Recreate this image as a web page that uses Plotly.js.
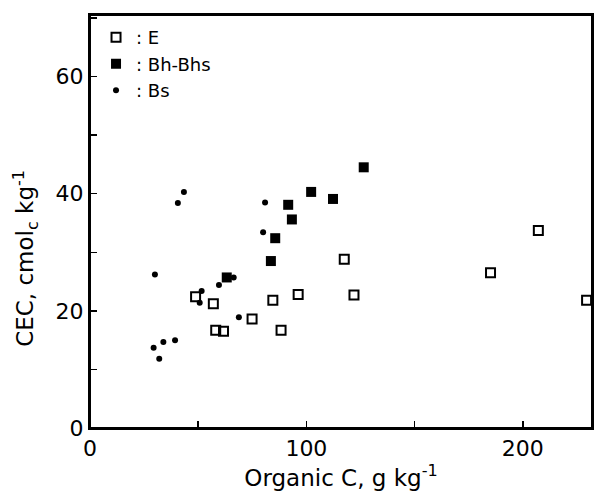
<!DOCTYPE html>
<html><head><meta charset="utf-8">
<script src="https://cdn.plot.ly/plotly-3.0.1.min.js"></script>
<style>body{margin:0;background:#fff}#c{width:605px;height:492px}</style>
</head><body><div id="c"></div>
<script>
const eX = [48.8, 57.0, 58.1, 61.7, 74.9, 84.5, 88.3, 96.2, 117.5, 122.0, 185.1, 207.2, 229.5];
const eY = [22.4, 21.2, 16.7, 16.5, 18.6, 21.8, 16.7, 22.8, 28.8, 22.7, 26.5, 33.7, 21.8];
const bhX = [63.2, 83.6, 85.6, 93.3, 91.6, 102.2, 112.3, 126.5];
const bhY = [25.7, 28.5, 32.4, 35.6, 38.1, 40.3, 39.1, 44.5];
const bsX = [43.4, 40.6, 80.9, 80.0, 30.0, 66.4, 59.6, 51.6, 50.7, 68.8, 39.3, 33.9, 29.4, 32.0];
const bsY = [40.3, 38.4, 38.5, 33.4, 26.2, 25.7, 24.4, 23.4, 21.4, 18.9, 15.0, 14.7, 13.7, 11.8];
const names = [": E", ": Bh-Bhs", ": Bs"];
const xTitle = "Organic C, g kg<sup>-1</sup>";
const yTitle = "CEC, cmol<sub>c</sub> kg<sup>-1</sup>";

const font = "DejaVu Sans, Liberation Sans, Arial, sans-serif";
const traces = [
  {x: eX, y: eY, name: names[0], mode: "markers", type: "scatter",
   marker: {symbol: "square-open", size: 9, color: "black", line: {width: 2, color: "black"}}},
  {x: bhX, y: bhY, name: names[1], mode: "markers", type: "scatter",
   marker: {symbol: "square", size: 10, color: "black"}},
  {x: bsX, y: bsY, name: names[2], mode: "markers", type: "scatter",
   marker: {symbol: "circle", size: 6, color: "black"}}
];
const axisCommon = {
  ticks: "inside", ticklen: 7, tickwidth: 1.5, tickcolor: "black",
  showline: true, linecolor: "black", linewidth: 2, mirror: true,
  showgrid: false, zeroline: false, tickfont: {size: 22, color: "black", family: font}
};
const layout = {
  width: 605, height: 492,
  margin: {l: 90, r: 13, t: 15, b: 64},
  paper_bgcolor: "white", plot_bgcolor: "white",
  font: {family: font, color: "black"},
  showlegend: true,
  legend: {x: 0.012, y: 0.99, xanchor: "left", yanchor: "top", font: {size: 18, family: font, color: "black"},
           bgcolor: "rgba(0,0,0,0)", tracegroupgap: 0, itemwidth: 30},
  xaxis: Object.assign({}, axisCommon, {range: [0, 232], dtick: 100, tick0: 0,
          minor: {dtick: 50, ticks: "inside", ticklen: 7, tickwidth: 1.5, tickcolor: "black", showgrid: false},
          title: {text: xTitle, font: {size: 23, color: "black", family: font}, standoff: 8}}),
  yaxis: Object.assign({}, axisCommon, {range: [0, 70.5], dtick: 20, tick0: 0,
          minor: {dtick: 10, ticks: "inside", ticklen: 7, tickwidth: 1.5, tickcolor: "black", showgrid: false},
          title: {text: ""}}),
  annotations: [{text: yTitle, xref: "paper", yref: "y", x: -0.13, y: 29, xanchor: "center", yanchor: "middle",
                 textangle: -90, showarrow: false, font: {size: 23, color: "black", family: font}}],
  shapes: [{type: "rect", xref: "paper", yref: "paper", x0: 0, x1: 1, y0: 0, y1: 1,
            line: {color: "black", width: 2}, fillcolor: "rgba(0,0,0,0)", layer: "above"}]
};
Plotly.newPlot("c", traces, layout, {displayModeBar: false, staticPlot: true});
</script></body></html>
